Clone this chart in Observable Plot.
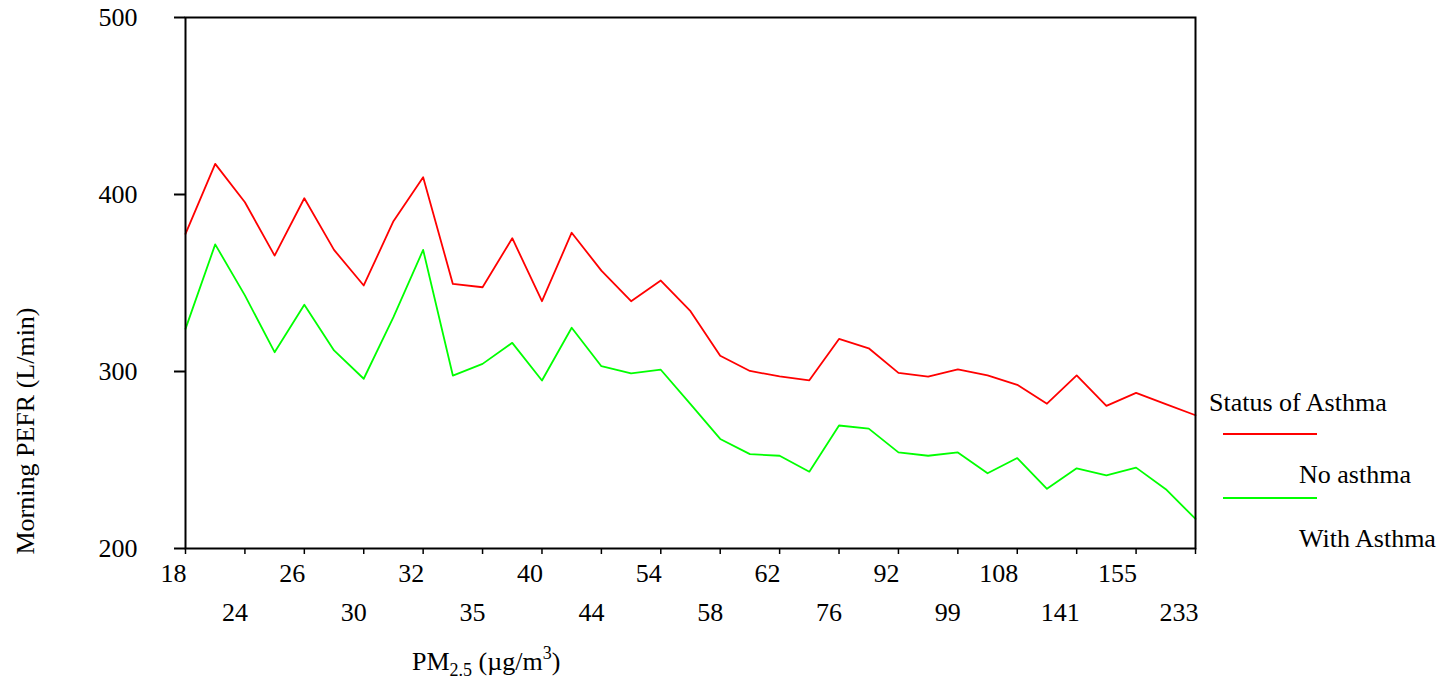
<!DOCTYPE html>
<html>
<head>
<meta charset="utf-8">
<script src="https://cdn.jsdelivr.net/npm/d3@7"></script>
<script src="https://cdn.jsdelivr.net/npm/@observablehq/plot@0.6"></script>
<style>
  html, body { margin: 0; padding: 0; background: #fff; }
</style>
</head>
<body>
<div id="chart"></div>
<script>
// PM2.5 tick labels (every other category along the x axis)
const pmTickLabels = ["18","24","26","30","32","35","40","44","54","58","62","76","92","99","108","141","155","233"];
// Morning PEFR (L/min), No asthma
const noAsthma = [377.8, 417.3, 395.6, 365.5, 397.9, 368.7, 348.6, 384.9, 409.8, 349.5, 347.6, 375.3, 339.7, 378.4, 357.0, 339.7, 351.4, 334.1, 308.9, 300.3, 297.2, 295.0, 318.4, 313.1, 299.2, 297.1, 301.2, 297.8, 292.5, 281.8, 297.8, 280.6, 287.9, 281.6, 275.3];
// Morning PEFR (L/min), With Asthma
const withAsthma = [324.1, 371.8, 343.0, 310.9, 337.7, 311.9, 295.9, 330.7, 368.7, 297.7, 304.3, 316.2, 294.9, 324.7, 303.0, 299.0, 301.0, 281.6, 261.9, 253.3, 252.4, 243.4, 269.5, 267.7, 254.3, 252.4, 254.3, 242.5, 251.1, 233.7, 245.3, 241.3, 245.7, 233.5, 216.7];
const seriesNames = ["No asthma", "With Asthma"];
const seriesColors = ["#ff0000", "#00ff00"];
const yTicks = [200, 300, 400, 500];

const rows = [];
[noAsthma, withAsthma].forEach((arr, s) => arr.forEach((v, i) => rows.push({i, v, series: seriesNames[s]})));

const tickPos = pmTickLabels.map((_, k) => k * 2);
const row1 = tickPos.filter((_, k) => k % 2 === 0);
const row2 = tickPos.filter((_, k) => k % 2 === 1);
const fmt = d => pmTickLabels[d / 2];

const font = "'Liberation Serif', 'Times New Roman', serif";
const W = 1449, H = 682;
const chart = Plot.plot({
  width: W,
  height: H,
  marginLeft: 185,
  marginRight: 254,
  marginTop: 17,
  marginBottom: 134,
  style: {fontFamily: font, fontSize: "26px", color: "#000", background: "#fff"},
  x: {type: "linear", domain: [0, noAsthma.length - 1]},
  y: {domain: [200, 500]},
  color: {domain: seriesNames, range: seriesColors},
  marks: [
    Plot.line(rows, {x: "i", y: "v", z: "series", stroke: "series", strokeWidth: 1.8}),
    Plot.frame({stroke: "#000", strokeWidth: 2}),
    Plot.axisY({ticks: yTicks, tickSize: 11, tickPadding: 37, label: null, strokeWidth: 2, fontSize: 26}),
    Plot.axisX({ticks: tickPos, tickSize: 6, text: null, label: null, strokeWidth: 1.5}),
    Plot.axisX({ticks: row1, tickFormat: fmt, tickSize: 0, tickPadding: 15, label: null, fontSize: 26, textAnchor: "end", dx: 1}),
    Plot.axisX({ticks: row2, tickFormat: fmt, tickSize: 0, tickPadding: 54, label: null, fontSize: 26, textAnchor: "end", dx: 3})
  ]
});
document.getElementById("chart").appendChild(chart);

const svg = d3.select(chart);

// Y axis title
svg.append("text")
  .attr("transform", "translate(25,431) rotate(-90)")
  .attr("text-anchor", "middle")
  .attr("dominant-baseline", "central")
  .attr("font-family", font).attr("font-size", 26).attr("fill", "#000")
  .text("Morning PEFR (L/min)");

// X axis title with sub/superscript
const xt = svg.append("text")
  .attr("x", 412).attr("y", 670)
  .attr("text-anchor", "start")
  .attr("font-family", font).attr("font-size", 26).attr("fill", "#000");
xt.append("tspan").text("PM");
xt.append("tspan").attr("font-size", 18).attr("dy", 6).text("2.5");
xt.append("tspan").attr("dy", -6).text(" (µg/m");
xt.append("tspan").attr("font-size", 18).attr("dy", -11).text("3");
xt.append("tspan").attr("dy", 11).text(")");

// Legend
svg.append("text")
  .attr("x", 1209).attr("y", 411)
  .attr("text-anchor", "start")
  .attr("font-family", font).attr("font-size", 26).attr("fill", "#000")
  .text("Status of Asthma");
seriesNames.forEach((name, k) => {
  const y0 = 434 + k * 64;
  svg.append("line")
    .attr("x1", 1223).attr("x2", 1317).attr("y1", y0).attr("y2", y0)
    .attr("stroke", seriesColors[k]).attr("stroke-width", 2);
  svg.append("text")
    .attr("x", 1299).attr("y", y0 + 49)
    .attr("text-anchor", "start")
    .attr("font-family", font).attr("font-size", 26).attr("fill", "#000")
    .text(name);
});
</script>
</body>
</html>
